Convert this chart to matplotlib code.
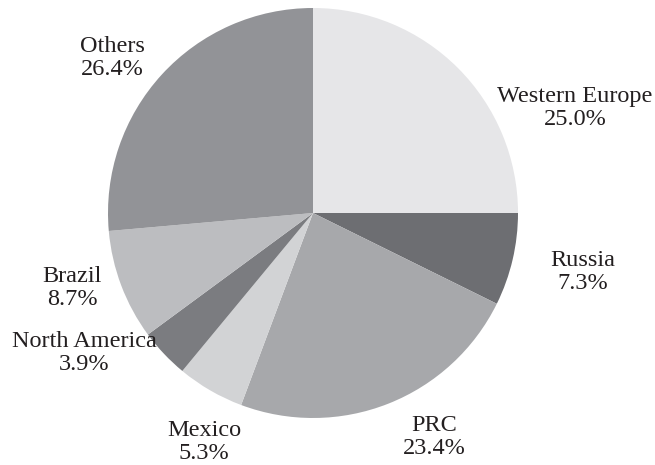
import matplotlib.pyplot as plt

regions = ["Western Europe", "Russia", "PRC", "Mexico", "North America", "Brazil", "Others"]
shares = [25.0, 7.3, 23.4, 5.3, 3.9, 8.7, 26.4]
greys = ["#e6e6e8", "#6d6e72", "#a7a8ab", "#d2d3d5", "#7b7c80", "#bcbdc0", "#929397"]

# label centres in figure pixels (x, y from top)
label_pos = [(575, 108), (583, 272), (434, 437), (204, 442), (84, 353), (72, 288), (112, 58)]

W, H = 655, 465
plt.rcParams['font.family'] = ['Liberation Serif', 'DejaVu Serif']

fig = plt.figure(figsize=(W / 100, H / 100), dpi=100)
cx, cy, r = 313, 213, 205
ax = fig.add_axes([(cx - r) / W, (H - cy - r) / H, 2 * r / W, 2 * r / H])
ax.pie(shares, colors=greys, startangle=90, counterclock=False,
       wedgeprops=dict(linewidth=0))
ax.set_xlim(-1, 1)
ax.set_ylim(-1, 1)
ax.set_aspect('equal')
ax.axis('off')

for name, val, (x, y) in zip(regions, shares, label_pos):
    fig.text(x / W, 1 - y / H, "{0}\n{1:.1f}%".format(name, val),
             ha='center', va='center', fontsize=17.5, linespacing=1.15,
             color='#231f20')

fig.savefig("out.png", dpi=100)
